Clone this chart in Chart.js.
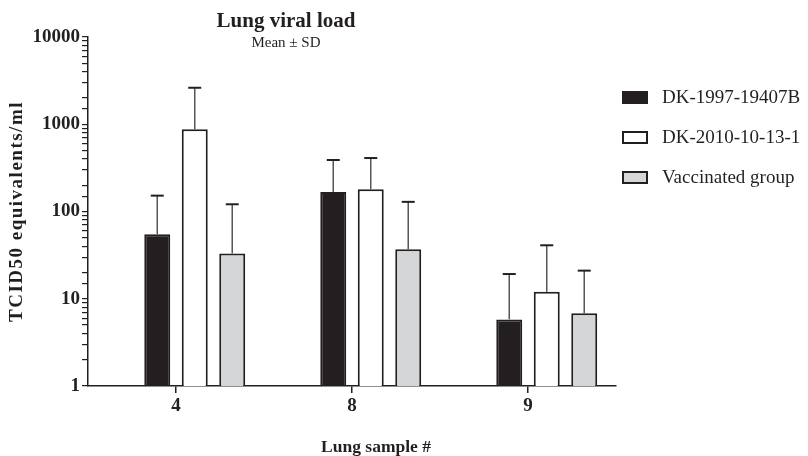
<!DOCTYPE html>
<html>
<head>
<meta charset="utf-8">
<script src="https://cdn.jsdelivr.net/npm/chart.js@4.4.1/dist/chart.umd.min.js"></script>
<style>
  body { margin: 0; background: #fff; }
  #wrap { position: relative; width: 808px; height: 456px; }
  #legend { position: absolute; left: 622px; top: 0; font-family: "Liberation Serif", "DejaVu Serif", serif; font-size: 19px; color: #231f20; }
  .row { position: absolute; left: 0; height: 20px; display: flex; align-items: center; white-space: nowrap; }
  .box { width: 26px; height: 13px; box-sizing: border-box; border: 2px solid #231f20; margin-right: 14px; }
</style>
</head>
<body>
<div id="wrap">
  <canvas id="chart" width="808" height="456"></canvas>
  <div id="legend"></div>
</div>
<script>
var categories = ['4', '8', '9'];
var seriesNames = ['DK-1997-19407B', 'DK-2010-10-13-1', 'Vaccinated group'];
var seriesColors = ['#231f20', '#ffffff', '#d5d6d8'];
var meanDK1997 = [55, 167, 5.8];
var meanDK2010 = [875, 180, 12];
var meanVacc = [33, 37, 6.8];
var sdDK1997 = [97, 222, 13.4];
var sdDK2010 = [1745, 230, 29];
var sdVacc = [88, 92, 14.2];
var yTicks = [1, 10, 100, 1000, 10000];

var means = [meanDK1997, meanDK2010, meanVacc];
var sds = [sdDK1997, sdDK2010, sdVacc];
var serif = '"Liberation Serif", "DejaVu Serif", serif';

// empty first slot so the groups sit right of the tick, like the original
var datasets = [{ label: '', data: categories.map(function(){ return null; }), backgroundColor: '#fff', borderWidth: 0 }];
for (var i = 0; i < seriesNames.length; i++) {
  datasets.push({
    label: seriesNames[i],
    data: means[i],
    sd: sds[i],
    backgroundColor: seriesColors[i],
    borderColor: '#231f20',
    borderWidth: 2,
    categoryPercentage: 0.852,
    barPercentage: 0.693
  });
}

var errorBars = {
  id: 'errorBars',
  afterDatasetsDraw: function(chart) {
    var ctx = chart.ctx;
    var y = chart.scales.y;
    chart.data.datasets.forEach(function(ds, di) {
      if (!ds.sd) return;
      chart.getDatasetMeta(di).data.forEach(function(bar, j) {
        var top = y.getPixelForValue(ds.data[j] + ds.sd[j]);
        ctx.save();
        ctx.strokeStyle = '#555';
        ctx.lineWidth = 1.5;
        ctx.beginPath();
        ctx.moveTo(bar.x, bar.y);
        ctx.lineTo(bar.x, top);
        ctx.stroke();
        ctx.strokeStyle = '#231f20';
        ctx.lineWidth = 2;
        ctx.beginPath();
        ctx.moveTo(bar.x - 6.5, top);
        ctx.lineTo(bar.x + 6.5, top);
        ctx.stroke();
        ctx.restore();
      });
    });
  }
};

var texts = {
  id: 'texts',
  afterDraw: function(chart) {
    var ctx = chart.ctx;
    var a = chart.chartArea;
    ctx.save();
    ctx.fillStyle = '#231f20';
    ctx.textAlign = 'center';
    ctx.textBaseline = 'alphabetic';
    ctx.font = 'bold 21px ' + serif;
    ctx.fillText('Lung viral load', 286, 27);
    ctx.font = '15px ' + serif;
    ctx.fillText('Mean \u00b1 SD', 286, 47);
    ctx.font = 'bold 17.5px ' + serif;
    ctx.fillText('Lung sample #', 376, 452);
    // y axis title, a little letter-spaced like the original
    ctx.translate(17, (a.top + a.bottom) / 2);
    ctx.rotate(-Math.PI / 2);
    ctx.textBaseline = 'middle';
    ctx.font = 'bold 19px ' + serif;
    ctx.letterSpacing = '1.5px';
    ctx.fillText('TCID50 equivalents/ml', 0, 0);
    ctx.restore();
  }
};

new Chart(document.getElementById('chart'), {
  type: 'bar',
  data: { labels: categories, datasets: datasets },
  options: {
    responsive: false,
    animation: false,
    devicePixelRatio: 1,
    layout: { padding: { top: 37, right: 192, left: 0, bottom: 0 } },
    plugins: { legend: { display: false }, title: { display: false }, tooltip: { enabled: false } },
    scales: {
      x: {
        grid: { offset: false, drawOnChartArea: false, drawTicks: true, tickLength: 7, color: '#231f20', lineWidth: 1.5 },
        border: { display: true, color: '#231f20', width: 1.5 },
        ticks: { color: '#231f20', font: { family: serif, size: 19, weight: 'bold' }, padding: 2 },
        afterFit: function(s) { s.height = 70; }
      },
      y: {
        type: 'logarithmic',
        min: 1,
        max: 10000,
        grid: { drawOnChartArea: false, drawTicks: true, tickLength: 6, color: '#231f20', lineWidth: 1.2 },
        border: { display: true, color: '#231f20', width: 1.5 },
        ticks: {
          color: '#231f20',
          font: { family: serif, size: 19, weight: 'bold' },
          padding: 2,
          autoSkip: false,
          callback: function(v) { return yTicks.indexOf(v) >= 0 ? String(v) : ''; }
        },
        afterFit: function(s) { s.width = 88; }
      }
    }
  },
  plugins: [errorBars, texts]
});

var legend = document.getElementById('legend');
var rowTops = [87, 127, 167];
seriesNames.forEach(function(name, i) {
  var row = document.createElement('div');
  row.className = 'row';
  row.style.top = rowTops[i] + 'px';
  var box = document.createElement('span');
  box.className = 'box';
  box.style.background = seriesColors[i];
  row.appendChild(box);
  row.appendChild(document.createTextNode(name));
  legend.appendChild(row);
});
</script>
</body>
</html>
